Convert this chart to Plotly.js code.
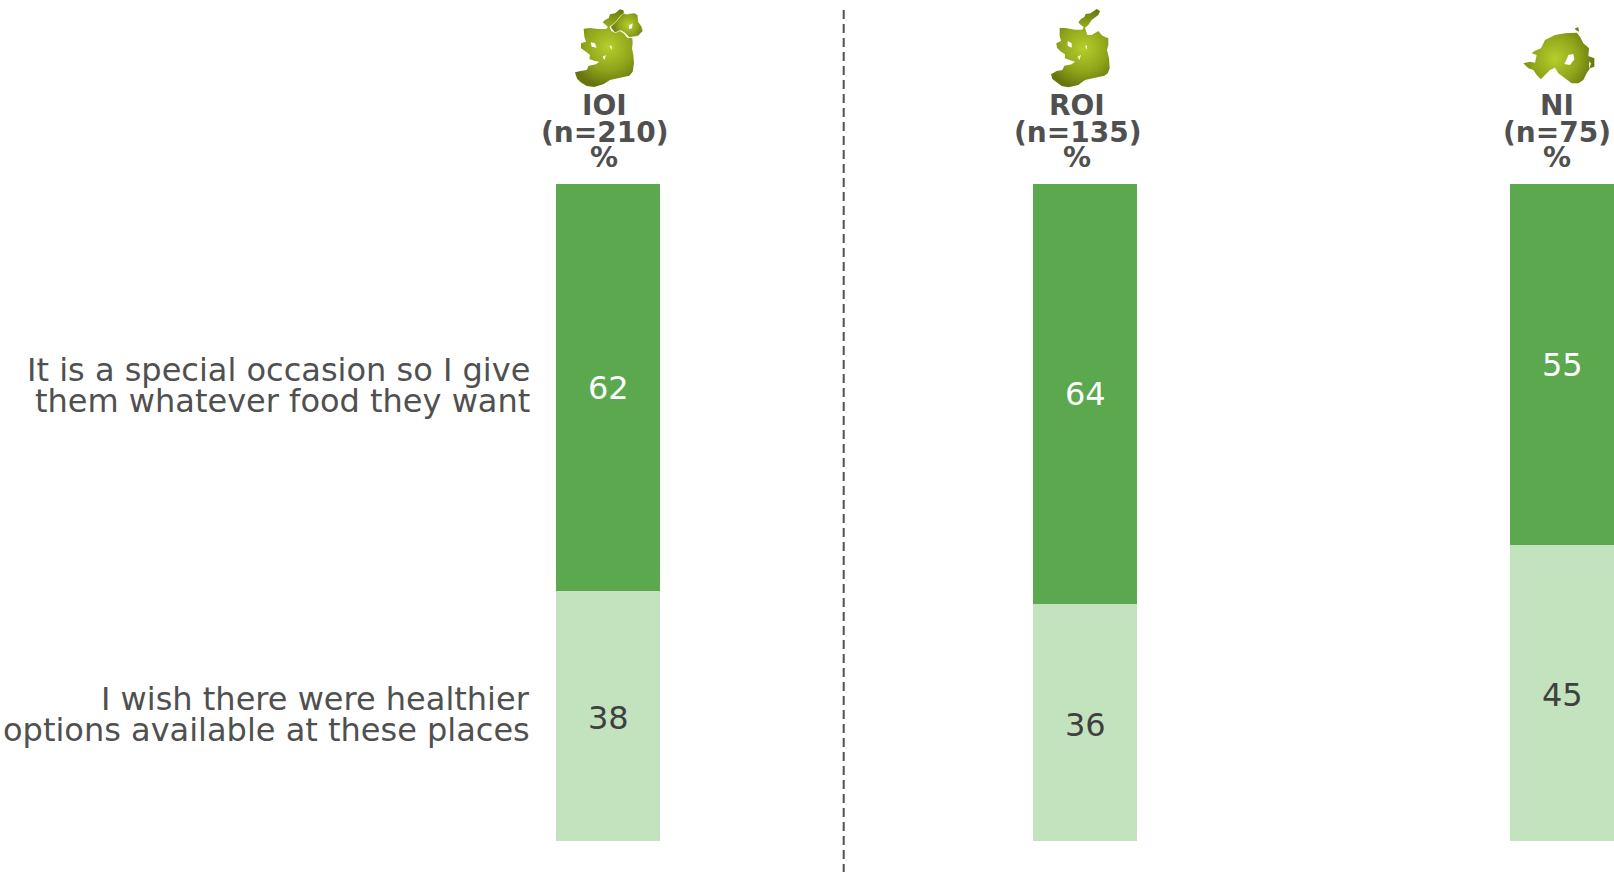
<!DOCTYPE html>
<html>
<head>
<meta charset="utf-8">
<script src="https://cdn.plot.ly/plotly-3.0.1.min.js"></script>
<style>html,body{margin:0;padding:0;background:#fff;overflow:hidden}</style>
</head>
<body>
<div id="chart" style="width:1614px;height:872px"></div>
<script>
// Regions across the page and their base sizes
const regions = ['IOI', 'ROI', 'NI'];
const sampleSizes = [210, 135, 75];

// Two-line statement labels, one list per response
const wishLines = ['I wish there were healthier', 'options available at these places'];
const occasionLines = ['It is a special occasion so I give', 'them whatever food they want'];

// Percentages per region
const wishValues = [38, 36, 45];
const occasionValues = [62, 64, 55];

const W = 1614, H = 872, plotTop = 184, plotBottom = 841;
const px = x => x / W;
const py = y => (plotBottom - y) / (plotBottom - plotTop);

// Vector map outlines, drawn at three units per page pixel
const IOI_SOUTH = 'M98 52L105 45L116 40L120 28L135 25L150 13L160 16L162 24L150 34L140 47L130 57L118 66L124 78L136 84L150 78L162 86L172 98L187 100L188 115L186 130L190 150L192 175L188 200L178 212L150 218L120 225L100 238L72 246L50 243L32 232L22 222L18 212L15 202L32 198L50 195L56 182L78 178L88 170L72 167L58 162L60 150L48 140L33 130L33 115L48 110L43 95L41 71L60 69L85 72L108 72L114 66L105 58Z';
const IOI_NORTH = 'M122 66L130 58L140 48L150 35L160 25L170 28L192 24L203 30L205 50L215 65L218 78L205 92L190 95L178 97L165 84L152 76L135 83L125 70Z';
const ROI_SHAPE = 'M100 52L108 42L118 36L122 27L137 25L155 12L165 18L160 30L140 45L130 60L120 68L127 90L140 90L160 78L172 92L190 100L190 120L186 135L192 160L194 190L188 205L178 212L150 218L120 225L100 240L70 247L50 243L35 232L22 222L18 208L35 198L52 195L58 182L80 178L90 170L74 165L60 160L60 148L48 140L36 128L34 115L48 108L44 92L44 69L62 69L90 74L112 74L116 66L105 58Z';
const NI_SHAPE = 'M25 130L45 125L60 128L65 105L50 100L60 92L78 85L90 60L120 45L150 40L185 38L195 50L205 70L222 85L220 108L238 115L238 140L225 145L215 160L205 180L190 190L170 190L150 175L130 160L120 143L105 150L90 165L78 178L65 165L55 150L40 145Z M180 25L190 22L192 35L182 30Z';

function mapIcon(w, h, parts, holes) {
  const defs = parts.map((r, i) => `<radialGradient id="g${i}" gradientUnits="userSpaceOnUse" cx="${r.cx}" cy="${r.cy}" r="${r.r}">
<stop offset="0" stop-color="#b5cf2c"/><stop offset="0.6" stop-color="#8fa31a"/><stop offset="1" stop-color="#67750f"/></radialGradient>`).join('');
  const paths = parts.map((r, i) => `<path d="${r.d}" fill="url(#g${i})" stroke="${r.edge || 'none'}" stroke-width="1.5"/>`).join('');
  const svg = `<svg xmlns="http://www.w3.org/2000/svg" width="${w}" height="${h}" viewBox="0 0 ${w} ${h}"><defs>${defs}<filter id="soft"><feGaussianBlur stdDeviation="0.8"/></filter></defs><g filter="url(#soft)">${paths}${holes}</g></svg>`;
  return 'data:image/svg+xml;utf8,' + encodeURIComponent(svg);
}

const icons = [
  { x: 570, y: 5, w: 80, h: 85, src: mapIcon(240, 255, [
      { d: IOI_SOUTH, cx: 115, cy: 125, r: 120 },
      { d: IOI_NORTH, cx: 175, cy: 60, r: 50, edge: '#eef2d8' }
    ], '<path d="M178 60L188 55L186 70L176 72Z M62 112L75 115L80 128L65 125Z M118 122L125 122L125 135Z M98 155L108 150L103 166Z" fill="#fff"/>') },
  { x: 1045, y: 5, w: 70, h: 85, src: mapIcon(210, 255, [
      { d: ROI_SHAPE, cx: 115, cy: 130, r: 120 }
    ], '<path d="M68 108L80 115L80 128L68 122Z M120 122L126 122L126 135Z M98 155L108 150L103 165Z" fill="#fff"/>') },
  { x: 1515, y: 20, w: 80, h: 70, src: mapIcon(240, 210, [
      { d: NI_SHAPE, cx: 120, cy: 115, r: 120 }
    ], '<path d="M160 105L175 102L178 118L165 135L148 132L155 118Z M222 125L228 130L222 148Z" fill="#fff"/>') }
];

// Stacked columns, lower band first
const xs = [0, 1, 2];
const dark = '#5ba84f', light = '#c3e2be';
const pitch = 477, firstCentre = 608;
const barWidth = 103.5 / pitch;

const traces = [
  { name: 'wish', values: wishValues, color: light },
  { name: 'occasion', values: occasionValues, color: dark }
].map(s => ({
  type: 'bar',
  x: xs,
  y: s.values,
  width: barWidth,
  name: s.name,
  marker: { color: s.color, line: { width: 0 } },
  hoverinfo: 'skip'
}));

const annotations = [];
const addText = (text, x, y, size, anchor, weight) => annotations.push({
  text, xref: 'paper', yref: 'paper', x: px(x), y: py(y),
  xanchor: anchor, yanchor: 'middle', showarrow: false,
  font: { family: 'DejaVu Sans', size, color: '#505050', weight }
});

// Value labels sit at the middle of each stacked band
xs.forEach(i => {
  const valueLabel = (v, mid, color, yshift) => annotations.push({
    text: String(v), xref: 'x', yref: 'y', x: i, y: mid, yshift,
    xanchor: 'center', yanchor: 'middle', showarrow: false,
    font: { family: 'DejaVu Sans', size: 32, color }
  });
  valueLabel(wishValues[i], wishValues[i] / 2, '#404040', -2);
  valueLabel(occasionValues[i], wishValues[i] + occasionValues[i] / 2, '#ffffff', 0);
});

// Region headers, one annotation per line for the tight leading
const headerCentres = [604, 1077, 1557];
regions.forEach((r, i) => {
  addText(r, headerCentres[i], 106, 28, 'center', 700);
  addText(`(n=${sampleSizes[i]})`, headerCentres[i], 132, 28, 'center', 700);
  addText('%', headerCentres[i], 157, 28, 'center', 700);
});

// Statement labels at the left
occasionLines.forEach((t, i) => addText(t, 532, 370 + i * 31, 32, 'right', 400));
wishLines.forEach((t, i) => addText(t, 532, 699 + i * 31, 32, 'right', 400));

const layout = {
  width: W, height: H,
  margin: { l: 0, r: 0, t: plotTop, b: H - plotBottom, pad: 0 },
  paper_bgcolor: '#ffffff', plot_bgcolor: '#ffffff',
  barmode: 'stack', showlegend: false,
  xaxis: { range: [-firstCentre / pitch, (W - firstCentre) / pitch], visible: false, fixedrange: true },
  yaxis: { range: [0, 100], visible: false, fixedrange: true },
  annotations,
  shapes: [{
    type: 'line', xref: 'paper', yref: 'paper',
    x0: px(843.7), x1: px(843.7), y0: py(10), y1: py(872),
    line: { color: '#505050', width: 2, dash: '9px,5px' }
  }],
  images: icons.map(ic => ({
    source: ic.src, xref: 'paper', yref: 'paper',
    x: px(ic.x), y: py(ic.y), sizex: ic.w / W, sizey: ic.h / (plotBottom - plotTop),
    xanchor: 'left', yanchor: 'top', sizing: 'stretch', layer: 'above'
  }))
};

Plotly.newPlot('chart', traces, layout, { staticPlot: true, displayModeBar: false });
</script>
</body>
</html>
